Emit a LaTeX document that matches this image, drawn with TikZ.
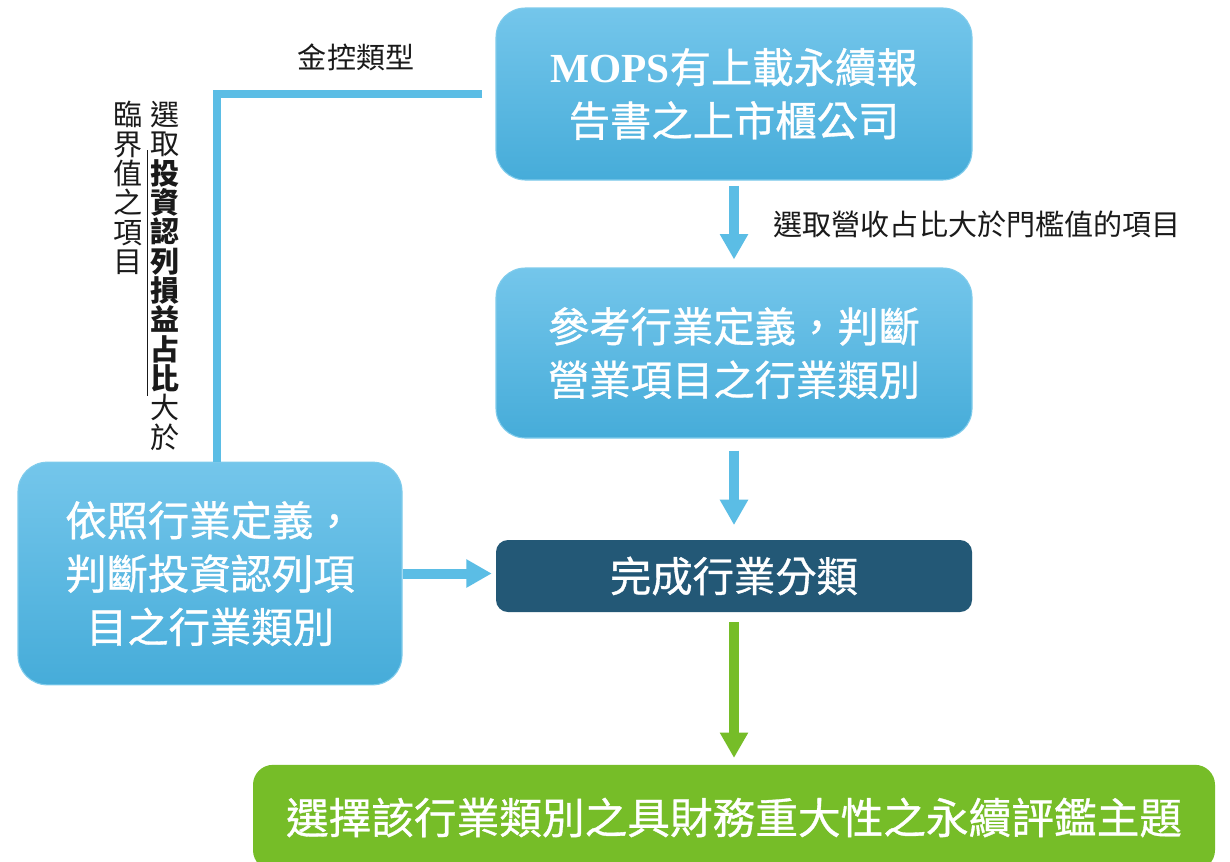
\documentclass[tikz,border=0pt]{standalone}
\usepackage{fontspec}
\setmainfont{Noto Sans CJK TC}
\newfontfamily\boxfont[FakeBold=0.8]{Noto Sans CJK TC}
\newfontfamily\mopsfont{Liberation Serif}
\usepackage{tikz}
\usetikzlibrary{arrows.meta,positioning}
\usepackage{xcolor}
\definecolor{flowblue}{RGB}{91,189,229}
\definecolor{flowtop}{RGB}{116,198,235}
\definecolor{flowbottom}{RGB}{70,172,217}
\definecolor{flowedge}{RGB}{128,204,236}
\definecolor{flowdark}{RGB}{35,88,118}
\definecolor{flowgreen}{RGB}{118,189,40}
\definecolor{flowtext}{RGB}{26,26,26}
\tikzstyle{flowarrow} = [line width=7.5pt, color=flowblue, -{Triangle[length=19pt,width=20pt]}]
\tikzstyle{greenarrow} = [flowarrow, color=flowgreen]
\tikzstyle{elbowline} = [line width=6pt, color=flowblue]
\tikzstyle{lightbox} = [rectangle, rounded corners=22pt, top color=flowtop, bottom color=flowbottom, draw=flowedge, line width=0.8pt, text=white, align=center, font=\boxfont\fontsize{31pt}{40pt}\selectfont]
\tikzstyle{darkbox} = [rectangle, rounded corners=9pt, fill=flowdark, text=white, align=center, font=\boxfont\fontsize{31pt}{40pt}\selectfont]
\tikzstyle{greenbox} = [rectangle, rounded corners=15pt, fill=flowgreen, text=white, align=center, font=\boxfont\fontsize{32pt}{40pt}\selectfont]
\tikzstyle{note} = [text=flowtext, inner sep=0pt, align=center, font=\fontsize{21.8pt}{22pt}\selectfont]

\begin{document}
\begin{tikzpicture}[x=0.75pt, y=-0.75pt]
\path[use as bounding box, fill=white] (0,0) rectangle (1230,861);

% Listed companies with reports
\node (mops) [lightbox, minimum width=357pt, minimum height=129pt] at (734,94) {{\mopsfont\bfseries MOPS}有上載永續報\\告書之上市櫃公司};

% Industry of operating items
\node (ref) [lightbox, minimum width=357pt, minimum height=127.5pt] at (734,353) {參考行業定義，判斷\\營業項目之行業類別};

% Classification done
\node (done) [darkbox, minimum width=357pt, minimum height=54pt] at (734,576) {完成行業分類};

% Topics
\node (topic) [greenbox, minimum width=721.5pt, minimum height=79pt] at (734,817.5) {選擇該行業類別之具財務重大性之永續評鑑主題};

% Investment items
\node (invest) [lightbox, minimum width=288pt, minimum height=167pt] at (210,573.5) {依照行業定義，\\判斷投資認列項\\目之行業類別};

% Vertical labels
\node (pick) [note, anchor=north] at (165,101) {選\\取\\\textbf{投}\\\textbf{資}\\\textbf{認}\\\textbf{列}\\\textbf{損}\\\textbf{益}\\\textbf{占}\\\textbf{比}\\大\\於};
\node (limit) [note, anchor=north] at (128,101) {臨\\界\\值\\之\\項\\目};
\draw[thin, flowtext] ([xshift=-2pt, yshift=-37pt]pick.north west) -- ([xshift=-2pt, yshift=-221pt]pick.north west);

% Steps
\draw[flowarrow, shorten <=4pt, shorten >=6pt] (mops) -- node[note, right=26pt] {選取營收占比大於門檻值的項目} (ref);
\draw[flowarrow, shorten <=9pt, shorten >=11pt] (ref) -- (done);
\draw[greenarrow, shorten <=7.5pt, shorten >=5pt] (done) -- (topic);
\draw[flowarrow, shorten >=3pt] (invest.east) -- (invest.east -| done.west);
\draw[elbowline, shorten <=10pt] (mops.west) -| node[note, pos=0.25, above=14pt] {金控類型} ([xshift=5pt]invest.north);

\end{tikzpicture}
\end{document}
